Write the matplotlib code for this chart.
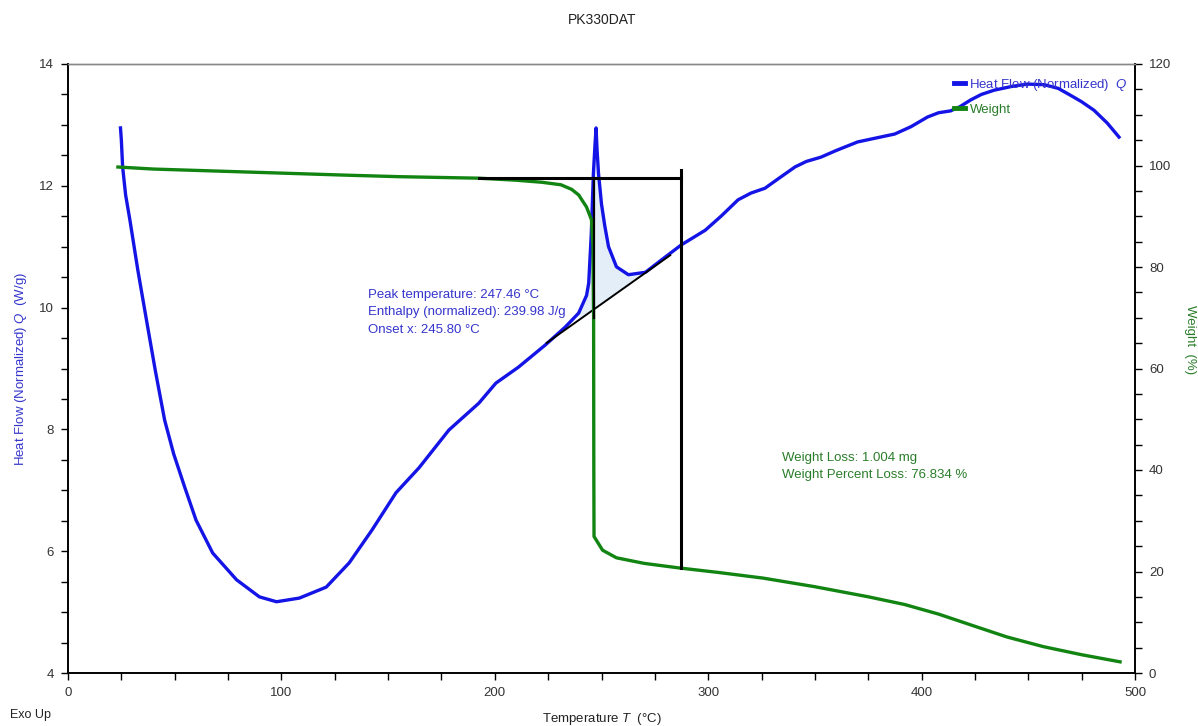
import numpy as np
import matplotlib
matplotlib.use("Agg")
import matplotlib.pyplot as plt
from matplotlib.ticker import MultipleLocator

plt.rcParams['font.family'] = ['Liberation Sans', 'DejaVu Sans']
plt.rcParams['mathtext.fontset'] = 'custom'
plt.rcParams['mathtext.it'] = 'Liberation Sans:italic'
plt.rcParams['mathtext.rm'] = 'Liberation Sans'

# heat flow (normalized), W/g
heat_T = [24.6, 25.0, 25.6, 27.0, 29.0, 32.7, 37.0, 41.0, 45.3, 49.5, 54.7, 60.0,
          67.8, 79.0, 89.7, 97.7, 108.4, 121.0, 131.8, 142.5, 153.7, 164.5, 178.5,
          192.5, 200.5, 211.0, 223.8, 233.0, 239.3, 243.0, 244.0, 245.2, 246.2,
          247.0, 247.46, 247.9, 248.6, 250.0, 251.5, 253.3, 257.0, 262.6, 270.6,
          278.0, 287.4, 298.6, 306.0, 314.0, 320.0, 326.6, 333.0, 340.7, 346.0,
          352.8, 360.0, 370.0, 378.0, 387.4, 395.0, 402.8, 408.0, 413.6, 418.0,
          423.0, 428.0, 434.0, 442.0, 449.5, 457.5, 464.0, 469.6, 475.0, 480.8,
          487.0, 492.5]
heat_Q = [12.95, 12.75, 12.31, 11.85, 11.44, 10.62, 9.75, 8.95, 8.15, 7.60, 7.05, 6.51,
          5.97, 5.53, 5.25, 5.17, 5.23, 5.41, 5.81, 6.35, 6.96, 7.37, 7.99,
          8.43, 8.76, 9.02, 9.39, 9.68, 9.91, 10.20, 10.40, 11.20, 12.20,
          12.70, 12.95, 12.60, 12.20, 11.70, 11.35, 11.00, 10.67, 10.54, 10.58,
          10.78, 11.03, 11.27, 11.50, 11.77, 11.88, 11.96, 12.12, 12.31, 12.40,
          12.47, 12.58, 12.72, 12.78, 12.85, 12.97, 13.13, 13.20, 13.23, 13.30,
          13.41, 13.50, 13.57, 13.63, 13.67, 13.66, 13.60, 13.49, 13.38, 13.24,
          13.03, 12.80]

# weight, %
weight_T = [23.4, 40.0, 70.0, 100.0, 130.0, 155.0, 192.5, 210.0, 222.0, 231.0, 236.0,
            239.3, 243.0, 245.3, 246.0, 246.3, 246.4, 246.5, 250.5, 257.0, 270.0,
            286.4, 305.0, 325.7, 350.0, 375.2, 392.0, 408.0, 424.3, 440.0, 457.0,
            475.0, 493.0]
weight_W = [99.7, 99.3, 98.9, 98.5, 98.1, 97.8, 97.5, 97.1, 96.7, 96.2, 95.3,
            94.2, 91.8, 89.3, 84.0, 70.0, 40.0, 26.9, 24.2, 22.7, 21.6,
            20.7, 19.8, 18.7, 17.0, 15.0, 13.5, 11.6, 9.3, 7.1, 5.2,
            3.6, 2.2]

# peak integration baseline (T, Q)
base_T = [224.3, 282.2]
base_Q = [9.42, 10.86]

# weight step analysis
step_T = [192.5, 287.3]
step_top = 97.5
step_loss = 76.834
drop_T = 246.3

peak_lines = ["Peak temperature: 247.46 °C",
              "Enthalpy (normalized): 239.98 J/g",
              "Onset x: 245.80 °C"]
loss_lines = ["Weight Loss: 1.004 mg",
              "Weight Percent Loss: 76.834 %"]

blue = '#1414e6'
green = '#128412'
blue_txt = '#3535cc'
green_txt = '#2a7d2a'

fig = plt.figure(figsize=(11.98, 7.26), dpi=100)
ax = fig.add_axes([68 / 1198, 1 - 673 / 726, 1067 / 1198, 609 / 726])
ax2 = ax.twinx()

# shaded peak area between curve and baseline
hT = np.array(heat_T)
hQ = np.array(heat_Q)
sel = (hT >= 238) & (hT <= 276)
slope = (base_Q[1] - base_Q[0]) / (base_T[1] - base_T[0])
bq = base_Q[0] + slope * (hT[sel] - base_T[0])
ax.fill_between(hT[sel], hQ[sel], bq, where=hQ[sel] >= bq, interpolate=True,
                color='#e4eef9', lw=0, zorder=1)
ax.plot(base_T, base_Q, color='black', lw=1.4, zorder=3)
hl, = ax.plot(heat_T, heat_Q, color=blue, lw=2.4, zorder=2,
              label='Heat Flow (Normalized)  $Q$')

wl, = ax2.plot(weight_T, weight_W, color=green, lw=2.4, zorder=2, label='Weight')
step_bottom = step_top - step_loss
ax2.plot(step_T, [step_top, step_top], color='black', lw=2.2, zorder=3)
ax2.plot([step_T[1], step_T[1]], [step_bottom, step_top + 1.6], color='black', lw=2.2, zorder=3)
ax2.plot([drop_T, drop_T], [70.0, step_top], color='black', lw=1.6, zorder=3)

ax.set_xlim(0, 500)
ax.set_ylim(4, 14)
ax2.set_ylim(0, 120)
ax.xaxis.set_major_locator(MultipleLocator(100))
ax.xaxis.set_minor_locator(MultipleLocator(25))
ax.yaxis.set_major_locator(MultipleLocator(2))
ax.yaxis.set_minor_locator(MultipleLocator(0.5))
ax2.yaxis.set_major_locator(MultipleLocator(20))
ax2.yaxis.set_minor_locator(MultipleLocator(5))

for a in (ax, ax2):
    a.tick_params(which='both', direction='out', length=5, width=1, colors='black',
                  labelsize=9.5, labelcolor='#333333', pad=5)
    for s in ('left', 'bottom', 'right'):
        a.spines[s].set_color('black')
        a.spines[s].set_linewidth(1.2)
    a.spines['top'].set_color('#888888')
    a.spines['top'].set_linewidth(1.0)

ax.set_ylabel('Heat Flow (Normalized) $Q$  (W/g)', color=blue_txt, fontsize=9.5)
ax.yaxis.set_label_coords(-0.037, 0.5)
ax2.set_ylabel('Weight  (%)', color=green_txt, fontsize=9.5, rotation=270, va='center')
ax2.yaxis.set_label_coords(1.052, 0.547)
ax.set_xlabel('Temperature $T$  (°C)', fontsize=9.5, color='#222222')
ax.xaxis.set_label_coords(0.5, -0.062)

for i, line in enumerate(peak_lines):
    ax.text(0.281, 0.621 - i * 0.0287, line, transform=ax.transAxes, color=blue_txt,
            fontsize=9.5, va='center', ha='left')
for i, line in enumerate(loss_lines):
    ax.text(0.669, 0.353 - i * 0.0285, line, transform=ax.transAxes, color=green_txt,
            fontsize=9.5, va='center', ha='left')

leg = ax2.legend(handles=[hl, wl], loc='upper left', bbox_to_anchor=(0.830, 0.979),
                 frameon=False, fontsize=9.5, handlelength=0.9, handletextpad=0.3,
                 labelspacing=0.8, borderpad=0, borderaxespad=0,
                 labelcolor=[blue_txt, green_txt])
for h in leg.legend_handles:
    h.set_linewidth(3.5)

fig.text(602 / 1198, 1 - 20 / 726, 'PK330DAT', ha='center', va='center', fontsize=10,
         color='#222222')
fig.text(10 / 1198, 1 - 715 / 726, 'Exo Up', ha='left', va='center', fontsize=9,
         color='#222222')

fig.savefig('out.png', dpi=100)
